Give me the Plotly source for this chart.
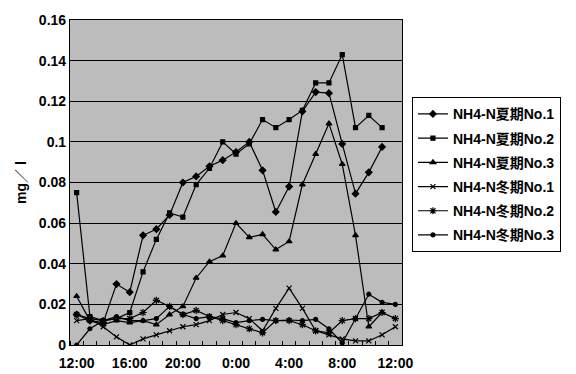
import plotly.graph_objects as go

# Hourly sampling, 12:00 through 12:00 the next day (index 0..24)
hours = list(range(25))
tick_pos = [0, 4, 8, 12, 16, 20, 24]
tick_text = ["12:00", "16:00", "20:00", "0:00", "4:00", "8:00", "12:00"]

# NH4-N concentration (mg/l), summer runs (12:00 .. 11:00)
summer_no1 = [0.015, 0.012, 0.011, 0.030, 0.026, 0.054, 0.057, 0.064, 0.080, 0.083,
              0.088, 0.091, 0.095, 0.100, 0.086, 0.0655, 0.078, 0.115, 0.1245, 0.124,
              0.099, 0.0745, 0.085, 0.0975]
summer_no2 = [0.075, 0.014, 0.012, 0.013, 0.016, 0.036, 0.052, 0.065, 0.063, 0.079,
              0.087, 0.100, 0.094, 0.099, 0.111, 0.107, 0.111, 0.1155, 0.129, 0.129,
              0.143, 0.107, 0.113, 0.107]
summer_no3 = [0.024, 0.012, 0.010, 0.012, 0.011, 0.012, 0.010, 0.015, 0.019, 0.033,
              0.041, 0.044, 0.060, 0.053, 0.0545, 0.047, 0.051, 0.079, 0.094, 0.109,
              0.089, 0.054, 0.009, 0.016]

# NH4-N concentration (mg/l), winter runs (12:00 .. 12:00)
winter_no1 = [0.012, 0.013, 0.009, 0.004, 0.000, 0.003, 0.005, 0.007, 0.009, 0.010,
              0.012, 0.015, 0.016, 0.013, 0.007, 0.018, 0.028, 0.018, 0.007, 0.005,
              0.003, 0.002, 0.002, 0.005, 0.009]
winter_no2 = [0.015, 0.013, 0.012, 0.013, 0.013, 0.016, 0.022, 0.019, 0.015, 0.017,
              0.014, 0.012, 0.010, 0.008, 0.006, 0.012, 0.012, 0.010, 0.007, 0.006,
              0.012, 0.013, 0.013, 0.016, 0.013]
winter_no3 = [0.000, 0.008, 0.012, 0.014, 0.012, 0.012, 0.013, 0.019, 0.015, 0.013,
              0.014, 0.013, 0.011, 0.012, 0.0126, 0.012, 0.0123, 0.012, 0.0126, 0.008,
              0.001, 0.013, 0.025, 0.021, 0.020]

series = [
    ("NH4-N夏期No.1", summer_no1, "diamond", 5),
    ("NH4-N夏期No.2", summer_no2, "square", 4),
    ("NH4-N夏期No.3", summer_no3, "triangle-up", 5),
    ("NH4-N冬期No.1", winter_no1, "x-thin-open", 5),
    ("NH4-N冬期No.2", winter_no2, "asterisk-open", 6),
    ("NH4-N冬期No.3", winter_no3, "circle", 4),
]

FONT = "Liberation Sans, Arial, Noto Sans CJK JP, sans-serif"

fig = go.Figure()
for i, (name, vals, sym, size) in enumerate(series):
    fig.add_trace(go.Scatter(
        x=hours[:len(vals)], y=vals, name=name, mode="lines+markers",
        line=dict(color="black", width=1.2),
        marker=dict(symbol=sym, size=size, color="black",
                    line=dict(color="black", width=1.2)),
        legendgroup=f"g{i}",
    ))

fig.update_layout(
    width=576, height=374,
    margin=dict(l=70, r=174, t=20, b=29),
    paper_bgcolor="white",
    plot_bgcolor="#bcbcbc",
    font=dict(family=FONT, color="black", size=14),
    legend=dict(
        x=1.03, y=0.762, xanchor="left", yanchor="top",
        bgcolor="white", bordercolor="black", borderwidth=1,
        font=dict(family=FONT, size=14, color="black", weight="bold"),
        tracegroupgap=3, itemwidth=30,
    ),
)

fig.update_xaxes(
    range=[-0.5, 24.5], automargin=False,
    tickvals=tick_pos, ticktext=tick_text, ticks="",
    tickfont=dict(size=14, weight="bold"), ticklabelstandoff=5,
    showgrid=False, zeroline=False,
    showline=True, linecolor="black", linewidth=1.2, mirror=True,
    minor=dict(tickvals=[h - 0.5 for h in range(26)], ticks="inside",
               ticklen=4, tickcolor="black", tickwidth=1, showgrid=False),
)
fig.update_yaxes(
    range=[0, 0.16], tickvals=[0, 0.02, 0.04, 0.06, 0.08, 0.1, 0.12, 0.14, 0.16],
    ticktext=["0", "0.02", "0.04", "0.06", "0.08", "0.1", "0.12", "0.14", "0.16"],
    tickfont=dict(size=14, weight="bold"), ticks="",
    showgrid=True, gridcolor="black", gridwidth=1.2,
    zeroline=False,
    showline=True, linecolor="black", linewidth=1.2, mirror=True,
    title=dict(text="mg／ l", font=dict(size=14, weight="bold"), standoff=8),
)

fig.write_html("out.html")
